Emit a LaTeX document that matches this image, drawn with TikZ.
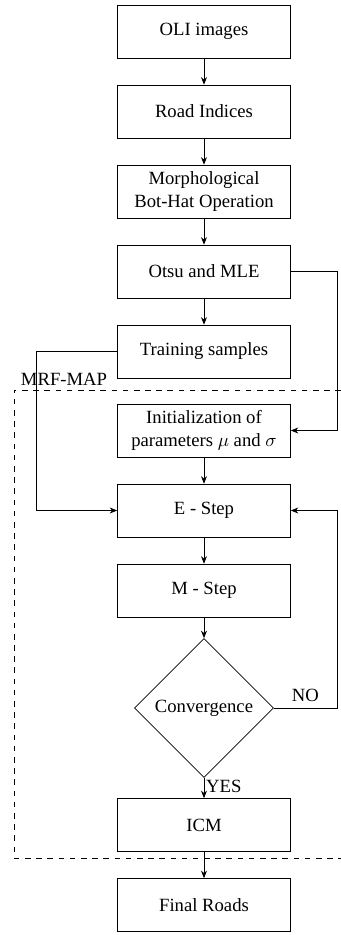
\documentclass[tikz,border=0pt]{standalone}
\usepackage{fontspec}
\setmainfont{Liberation Serif}
\usetikzlibrary{shapes.geometric,arrows.meta}

\begin{document}
\begin{tikzpicture}
  [x=0.536pt,y=-0.536pt,>={Stealth[length=4pt,width=3.2pt]},
   block/.style={draw, rectangle, minimum width=92.7pt, minimum height=28.4pt, align=center, inner sep=2pt},
   decide/.style={draw, diamond, aspect=1, minimum size=74.5pt, inner sep=0pt}]
  \useasboundingbox (0,0) rectangle (341,935);

  \node[block] (oli)   at (204,31.5)  {OLI images};
  \node[block] (road)  at (204,111.5) {Road Indices};
  \node[block] (morph) at (204,191.5) {Morphological\\Bot-Hat Operation};
  \node[block] (otsu)  at (204,271.5) {Otsu and MLE};
  \node[block] (train) at (204,351.5) {Training samples};
  \node[block] (init)  at (204,430.5) {Initialization of\\parameters $\mu$ and $\sigma$};
  \node[block] (estep) at (204,510.5) {E - Step};
  \node[block] (mstep) at (204,590.5) {M - Step};
  \node[decide] (conv) at (204,708)   {Convergence};
  \node[block] (icm)   at (204,825)   {ICM};
  \node[block] (final) at (204,905)   {Final Roads};

  % MRF-MAP region
  \draw[dashed] (341,390) -- (14,390) -- (14,858) -- (341,858);
  \node (mrf) at (64,379) {MRF-MAP};

\path[->,draw]
    (oli) edge (road)
    (road) edge (morph)
    (morph) edge (otsu)
    (otsu) edge (train)
    (init) edge (estep)
    (estep) edge (mstep)
    (mstep) edge (conv)
    (icm) edge (final)
;
  \draw[->] (conv.south) -- node[pos=0, anchor=north west, inner sep=1pt] {YES} (icm);
  \draw[->] (otsu.east) -- ++(47,0) |- (init.east);
  \draw[->] (train.west) -- ++(-80.5,0) |- (estep.west);
  \draw[->] (conv.east) -- node[above] {NO} ++(63,0) |- (estep.east);
\end{tikzpicture}
\end{document}
